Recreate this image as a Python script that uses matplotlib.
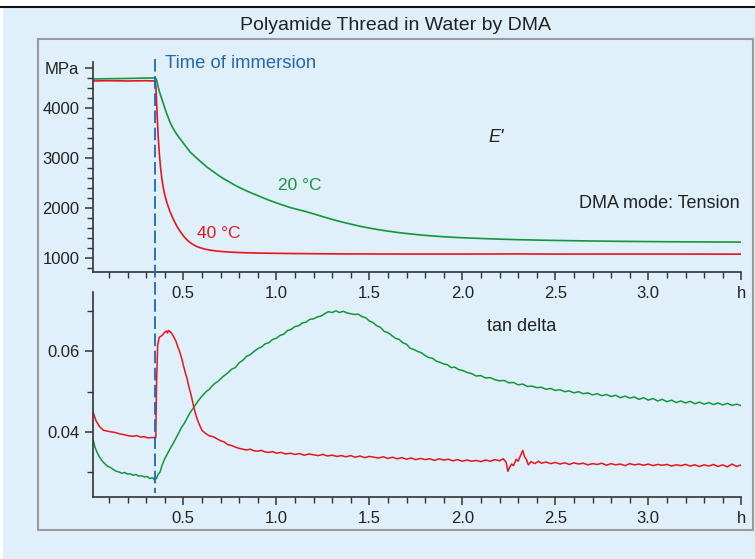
import numpy as np
import matplotlib
matplotlib.use('agg')
from matplotlib import pyplot as plt
from matplotlib.lines import Line2D
from matplotlib.patches import Rectangle
from matplotlib.ticker import FixedLocator, MultipleLocator
import matplotlib.transforms as mtransforms

plt.rcParams['font.family'] = ['Liberation Sans', 'DejaVu Sans']

# storage modulus E' (MPa) vs time (h)
t_e_20 = [0.016, 0.1, 0.2, 0.3, 0.35, 0.357, 0.364, 0.372, 0.384, 0.40, 0.415, 0.428, 0.445, 0.462,
          0.482, 0.51, 0.536, 0.57, 0.60, 0.626, 0.66, 0.69, 0.715, 0.75, 0.78, 0.805, 0.85, 0.895,
          0.94, 0.984, 1.03, 1.074, 1.12, 1.163, 1.21, 1.253, 1.30, 1.35, 1.40, 1.45, 1.50, 1.55,
          1.60, 1.65, 1.70, 1.75, 1.80, 1.85, 1.90, 1.95, 2.0, 2.1, 2.2, 2.3, 2.4, 2.5, 2.6, 2.7,
          2.8, 2.9, 3.0, 3.1, 3.2, 3.35, 3.5]
e_20 = [4590, 4595, 4600, 4608, 4612, 4560, 4440, 4330, 4193, 4010, 3850, 3727, 3600, 3495,
        3393, 3255, 3127, 3010, 2910, 2827, 2735, 2655, 2593, 2520, 2455, 2407, 2330, 2260,
        2190, 2127, 2068, 2013, 1968, 1927, 1875, 1827, 1775, 1725, 1680, 1638, 1600, 1568,
        1540, 1514, 1492, 1472, 1455, 1440, 1427, 1416, 1407, 1392, 1379, 1368, 1360, 1353, 1347, 1341,
        1337, 1333, 1330, 1327, 1325, 1322, 1320]

t_e_40 = [0.016, 0.1, 0.2, 0.3, 0.348, 0.352, 0.356, 0.36, 0.364, 0.368, 0.372, 0.378, 0.385, 0.393,
          0.40, 0.41, 0.42, 0.428, 0.44, 0.452, 0.465, 0.48, 0.50, 0.518, 0.535, 0.55, 0.57, 0.59,
          0.62, 0.65, 0.68, 0.715, 0.76, 0.8, 0.85, 0.9, 1.0, 1.1, 1.25, 1.4, 1.7, 2.0, 2.3, 2.5,
          3.0, 3.5]
e_40 = [4550, 4555, 4550, 4555, 4550, 4450, 4150, 3800, 3500, 3250, 3050, 2800, 2580, 2393,
        2270, 2130, 2020, 1935, 1830, 1735, 1640, 1550, 1445, 1370, 1315, 1275, 1235, 1207,
        1175, 1155, 1140, 1128, 1117, 1110, 1104, 1100, 1094, 1090, 1085, 1082, 1080, 1080, 1082, 1079,
        1080, 1078]

# tan delta, 20 °C
t_tan_20 = [0.016, 0.025, 0.035, 0.05, 0.065, 0.08, 0.095, 0.11, 0.125, 0.14, 0.155, 0.17, 0.185,
            0.20, 0.215, 0.23, 0.245, 0.26, 0.275, 0.29, 0.305, 0.32, 0.335, 0.345, 0.355, 0.365,
            0.375, 0.385, 0.40, 0.415, 0.43, 0.445, 0.46, 0.475, 0.49, 0.505, 0.52, 0.535, 0.55,
            0.565, 0.58, 0.595, 0.61, 0.625, 0.64, 0.655, 0.67, 0.685, 0.70, 0.72, 0.74, 0.76, 0.78,
            0.80, 0.82, 0.84, 0.86, 0.88, 0.90, 0.92, 0.94, 0.96, 0.98, 1.00, 1.02, 1.04, 1.06, 1.08,
            1.10, 1.12, 1.14, 1.16, 1.18, 1.20, 1.22, 1.24, 1.26, 1.28, 1.30, 1.32, 1.34, 1.36, 1.38,
            1.40, 1.42, 1.44, 1.46, 1.48, 1.50, 1.52, 1.54, 1.56, 1.58, 1.60, 1.62, 1.64, 1.66, 1.68,
            1.70, 1.72, 1.74, 1.76, 1.78, 1.80, 1.82, 1.84, 1.86, 1.88, 1.90, 1.92, 1.94, 1.96, 1.98,
            2.00, 2.025, 2.05, 2.075, 2.10, 2.125, 2.15, 2.175, 2.20, 2.225, 2.25, 2.275, 2.30, 2.325,
            2.35, 2.375, 2.40, 2.425, 2.45, 2.475, 2.50, 2.525, 2.55, 2.575, 2.60, 2.625, 2.65, 2.675,
            2.70, 2.725, 2.75, 2.775, 2.80, 2.825, 2.85, 2.875, 2.90, 2.925, 2.95, 2.975, 3.00, 3.025,
            3.05, 3.075, 3.10, 3.125, 3.15, 3.175, 3.20, 3.225, 3.25, 3.275, 3.30, 3.325, 3.35, 3.375,
            3.40, 3.425, 3.45, 3.475, 3.50]
tan_20 = [0.0379, 0.0362, 0.0350, 0.0337, 0.0327, 0.0320, 0.0314, 0.0311, 0.0306, 0.0302, 0.0300,
          0.0297, 0.0299, 0.0295, 0.0296, 0.0292, 0.0294, 0.0290, 0.0291, 0.0288, 0.0289, 0.0284,
          0.0286, 0.0280, 0.0284, 0.0295, 0.0300, 0.0316, 0.0333, 0.0346, 0.0359, 0.0371, 0.0384,
          0.0397, 0.0411, 0.0421, 0.0434, 0.0447, 0.0457, 0.0467, 0.0477, 0.0486, 0.0494, 0.0501,
          0.0506, 0.0514, 0.0521, 0.0525, 0.0532, 0.0540, 0.0547, 0.0556, 0.0560, 0.0572, 0.0578,
          0.0588, 0.0592, 0.0600, 0.0607, 0.0611, 0.0619, 0.0622, 0.0630, 0.0633, 0.0640, 0.0643,
          0.0652, 0.0655, 0.0662, 0.0664, 0.0671, 0.0673, 0.0680, 0.0681, 0.0686, 0.0688, 0.0694,
          0.0699, 0.0697, 0.0701, 0.0697, 0.0700, 0.0696, 0.0694, 0.0692, 0.0693, 0.0687, 0.0684,
          0.0676, 0.0672, 0.0664, 0.0660, 0.0650, 0.0647, 0.0640, 0.0633, 0.0630, 0.0622, 0.0618,
          0.0608, 0.0605, 0.0600, 0.0597, 0.0590, 0.0585, 0.0583, 0.0576, 0.0573, 0.0569, 0.0567,
          0.0560, 0.0561, 0.0555, 0.0553, 0.0548, 0.0545, 0.0539, 0.0540, 0.0534, 0.0535, 0.0530,
          0.0527, 0.0528, 0.0522, 0.0523, 0.0517, 0.0519, 0.0513, 0.0514, 0.0510, 0.0511, 0.0506,
          0.0508, 0.0503, 0.0505, 0.0500, 0.0502, 0.0497, 0.0500, 0.0495, 0.0497, 0.0492, 0.0495,
          0.0490, 0.0493, 0.0488, 0.0491, 0.0485, 0.0489, 0.0484, 0.0487, 0.0481, 0.0485, 0.0479,
          0.0483, 0.0477, 0.0481, 0.0475, 0.0479, 0.0473, 0.0477, 0.0472, 0.0476, 0.0470, 0.0474,
          0.0469, 0.0473, 0.0468, 0.0472, 0.0467, 0.0471, 0.0466, 0.0469, 0.0465]

# tan delta, 40 °C
t_tan_40 = [0.016, 0.03, 0.05, 0.07, 0.09, 0.11, 0.13, 0.15, 0.17, 0.19, 0.21, 0.23, 0.25, 0.27,
            0.29, 0.31, 0.33, 0.35, 0.352, 0.356, 0.362, 0.37, 0.38, 0.39, 0.40, 0.41, 0.415, 0.42,
            0.43, 0.44, 0.45, 0.46, 0.47, 0.48, 0.49, 0.50, 0.51, 0.52, 0.53, 0.54, 0.55, 0.56, 0.57,
            0.58, 0.59, 0.60, 0.62, 0.64, 0.66, 0.68, 0.70, 0.72, 0.74, 0.76, 0.78, 0.80, 0.82, 0.84,
            0.86, 0.88, 0.90, 0.92, 0.94, 0.96, 0.98, 1.00, 1.025, 1.05, 1.075, 1.10, 1.125, 1.15,
            1.175, 1.20, 1.225, 1.25, 1.275, 1.30, 1.325, 1.35, 1.375, 1.40, 1.425, 1.45, 1.475, 1.50,
            1.525, 1.55, 1.575, 1.60, 1.625, 1.65, 1.675, 1.70, 1.725, 1.75, 1.775, 1.80, 1.825, 1.85,
            1.875, 1.90, 1.925, 1.95, 1.975, 2.00, 2.025, 2.05, 2.075, 2.10, 2.125, 2.15, 2.175, 2.20,
            2.22, 2.235, 2.245, 2.255, 2.265, 2.275, 2.29, 2.30, 2.315, 2.325, 2.335, 2.345, 2.355,
            2.37, 2.39, 2.41, 2.425, 2.45, 2.475, 2.50, 2.525, 2.55, 2.575, 2.60, 2.625, 2.65, 2.675,
            2.70, 2.725, 2.75, 2.775, 2.80, 2.825, 2.85, 2.875, 2.90, 2.925, 2.95, 2.975, 3.00, 3.025,
            3.05, 3.075, 3.10, 3.125, 3.15, 3.175, 3.20, 3.225, 3.25, 3.275, 3.30, 3.325, 3.35, 3.375,
            3.40, 3.425, 3.45, 3.475, 3.50]
tan_40 = [0.0448, 0.0428, 0.0413, 0.0404, 0.0402, 0.0400, 0.0399, 0.0396, 0.0394, 0.0392, 0.0390,
          0.0389, 0.0391, 0.0387, 0.0388, 0.0385, 0.0386, 0.0385, 0.0386, 0.0520, 0.0615, 0.0635,
          0.0638, 0.0642, 0.0648, 0.0651, 0.0646, 0.0652, 0.0649, 0.0643, 0.0635, 0.0626, 0.0612,
          0.0600, 0.0585, 0.0566, 0.0548, 0.0533, 0.0512, 0.0495, 0.0475, 0.0455, 0.0438, 0.0425,
          0.0414, 0.0404, 0.0396, 0.0390, 0.0388, 0.0383, 0.0378, 0.0375, 0.0368, 0.0366, 0.0362,
          0.0359, 0.0357, 0.0355, 0.0357, 0.0353, 0.0352, 0.0354, 0.0350, 0.0349, 0.0351, 0.0347,
          0.0349, 0.0345, 0.0347, 0.0344, 0.0346, 0.0342, 0.0345, 0.0343, 0.0341, 0.0344, 0.0340,
          0.0342, 0.0339, 0.0341, 0.0338, 0.0341, 0.0337, 0.0340, 0.0336, 0.0339, 0.0337, 0.0335,
          0.0338, 0.0334, 0.0337, 0.0333, 0.0336, 0.0332, 0.0335, 0.0331, 0.0334, 0.0331, 0.0333,
          0.0329, 0.0333, 0.0330, 0.0332, 0.0328, 0.0331, 0.0327, 0.0330, 0.0327, 0.0329, 0.0326,
          0.0330, 0.0327, 0.0331, 0.0328, 0.0333, 0.0325, 0.0302, 0.0312, 0.0320, 0.0316, 0.0332,
          0.0327, 0.0343, 0.0354, 0.0338, 0.0331, 0.0318, 0.0326, 0.0321, 0.0327, 0.0322, 0.0325,
          0.0321, 0.0324, 0.0320, 0.0323, 0.0319, 0.0323, 0.0320, 0.0322, 0.0318, 0.0321, 0.0319,
          0.0322, 0.0317, 0.0321, 0.0318, 0.0320, 0.0316, 0.0321, 0.0318, 0.0320, 0.0317, 0.0320,
          0.0316, 0.0319, 0.0317, 0.0319, 0.0315, 0.0318, 0.0316, 0.0319, 0.0315, 0.0318, 0.0314,
          0.0318, 0.0315, 0.0319, 0.0314, 0.0318, 0.0313, 0.0320, 0.0314, 0.0318]

t_immersion = 0.348
x_major = [0.5, 1.0, 1.5, 2.0, 2.5, 3.0, 3.5]
x_labels = ['0.5', '1.0', '1.5', '2.0', '2.5', '3.0', 'h']

bg = '#dff0fb'
green = '#12963c'
red = '#e8141c'
blue = '#2366b4'
txt = '#222222'

fig = plt.figure(figsize=(7.55, 5.59), dpi=100, facecolor=bg)
W, H = 755.0, 559.0

# white margins + black top rule + gray frame
fig.add_artist(Rectangle((0, 1 - 6 / H), 1, 6 / H, transform=fig.transFigure, facecolor='white', edgecolor='none'))
fig.add_artist(Rectangle((0, 0), 3 / W, 1, transform=fig.transFigure, facecolor='white', edgecolor='none'))
fig.add_artist(Line2D([0, 1], [1 - 6.5 / H, 1 - 6.5 / H], transform=fig.transFigure, color='#111111', lw=1.5))
fig.add_artist(Rectangle((38 / W, 1 - 530 / H), (753 - 38) / W, (530 - 39) / H, transform=fig.transFigure,
                         facecolor='none', edgecolor='#9a9a9a', lw=1.5))

fig.text(395.5 / W, 1 - 25 / H, 'Polyamide Thread in Water by DMA', ha='center', va='center',
         fontsize=14, color=txt)

left, right = 93.3 / W, 741.3 / W
ax1 = fig.add_axes([left, 1 - 272 / H, right - left, (272 - 62) / H])
ax2 = fig.add_axes([left, 1 - 497 / H, right - left, (497 - 292) / H])

for ax in (ax1, ax2):
    ax.set_facecolor('none')
    for s in ('top', 'right'):
        ax.spines[s].set_visible(False)
    for s in ('left', 'bottom'):
        ax.spines[s].set_color('#333333')
        ax.spines[s].set_linewidth(1.2)
    ax.set_xlim(0.016, 3.5)
    ax.xaxis.set_major_locator(FixedLocator(x_major))
    ax.set_xticklabels(x_labels)
    ax.xaxis.set_minor_locator(FixedLocator([round(0.1 * i, 1) for i in range(1, 35)]))
    ax.tick_params(which='both', direction='out', color='#333333', labelcolor=txt, labelsize=12, pad=4)
    ax.tick_params(which='major', length=6, width=1.1)
    ax.tick_params(which='minor', length=4.5, width=1.0)

# E' panel
ax1.plot(t_e_20, e_20, color=green, lw=1.2)
ax1.plot(t_e_40, e_40, color=red, lw=1.2)
ax1.set_ylim(720, 4930)
ax1.yaxis.set_major_locator(FixedLocator([1000, 2000, 3000, 4000, 4800]))
ax1.set_yticklabels(['1000', '2000', '3000', '4000', 'MPa'])
ax1.yaxis.set_minor_locator(MultipleLocator(200))

ax1.text(1.009, 2463, '20 °C', color=green, fontsize=12.5, va='center', ha='left')
ax1.text(0.574, 1500, '40 °C', color=red, fontsize=12.5, va='center', ha='left')
ax1.text(2.18, 3425, "E'", fontsize=13, style='italic', color=txt, va='center', ha='center')
ax1.text(3.49, 2100, 'DMA mode: Tension', fontsize=13, color=txt, va='center', ha='right')
ax1.text(0.402, 4900, 'Time of immersion', fontsize=13.3, color=blue, va='center', ha='left', clip_on=False)

# tan delta panel
ax2.plot(t_tan_20, tan_20, color=green, lw=1.1)
ax2.plot(t_tan_40, tan_40, color=red, lw=1.1)
ax2.set_ylim(0.0238, 0.0748)
ax2.yaxis.set_major_locator(FixedLocator([0.04, 0.06]))
ax2.set_yticklabels(['0.04', '0.06'])
ax2.yaxis.set_minor_locator(FixedLocator([0.03, 0.05, 0.07]))
ax2.text(2.32, 0.0661, 'tan delta', fontsize=13, color=txt, va='center', ha='center')

# immersion marker spanning both panels
trans = mtransforms.blended_transform_factory(ax1.transData, fig.transFigure)
fig.add_artist(Line2D([t_immersion, t_immersion], [1 - 59 / H, 1 - 493 / H], transform=trans,
                      color=blue, lw=1.3, linestyle=(0, (7, 2.5))))

fig.savefig('out.png', dpi=100, facecolor=bg)
